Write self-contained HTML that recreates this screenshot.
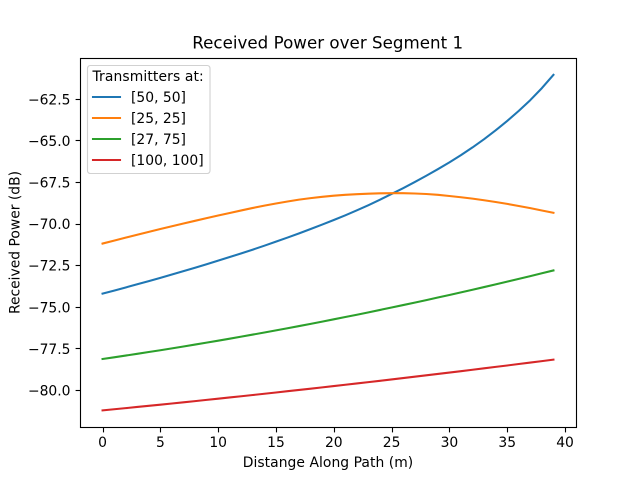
<!DOCTYPE html>
<html>
<head>
<meta charset="utf-8">
<title>Received Power over Segment 1</title>
<style>
html,body{margin:0;padding:0;background:#fff;}
svg{display:block;font-family:"DejaVu Sans","Liberation Sans",sans-serif;fill:#000;}
</style>
</head>
<body>
<svg id="chart" width="640" height="480" viewBox="0 0 640 480" xmlns="http://www.w3.org/2000/svg">
<rect x="0" y="0" width="640" height="480" fill="#fff"/>
<text x="327.7" y="48.5" font-size="16.67" letter-spacing="0.03" text-anchor="middle">Received Power over Segment 1</text>
<g id="ticks"></g>
<g id="series"></g>
<rect x="80.5" y="58.5" width="496" height="369" fill="none" stroke="#000" stroke-width="1.11"/>
<text x="328" y="467" font-size="13.89" letter-spacing="0.05" text-anchor="middle">Distange Along Path (m)</text>
<text transform="translate(19.5,242.5) rotate(-90)" font-size="13.89" text-anchor="middle">Received Power (dB)</text>
<g id="legend">
<rect x="87.5" y="65.5" width="122.5" height="108" rx="2.8" ry="2.8" fill="#fff" fill-opacity="0.8" stroke="#ccc" stroke-opacity="0.9" stroke-width="1.11"/>
<text x="92.5" y="81" font-size="13.89" letter-spacing="0.12">Transmitters at:</text>
</g>
</svg>
<script>
const xValues = [0,1,2,3,4,5,6,7,8,9,10,11,12,13,14,15,16,17,18,19,20,21,22,23,24,25,26,27,28,29,30,31,32,33,34,35,36,37,38,39];
const seriesLabels = ["[50, 50]","[25, 25]","[27, 75]","[100, 100]"];
const seriesColors = ["#1f77b4","#ff7f0e","#2ca02c","#d62728"];
const blueValues = [-74.180,-73.996,-73.809,-73.619,-73.426,-73.230,-73.031,-72.829,-72.623,-72.413,-72.199,-71.981,-71.759,-71.532,-71.297,-71.056,-70.809,-70.556,-70.296,-70.029,-69.754,-69.471,-69.173,-68.860,-68.532,-68.189,-67.839,-67.474,-67.094,-66.699,-66.289,-65.854,-65.389,-64.894,-64.364,-63.799,-63.194,-62.544,-61.824,-61.024];
const orangeValues = [-71.170,-70.990,-70.813,-70.638,-70.466,-70.296,-70.129,-69.964,-69.802,-69.642,-69.485,-69.330,-69.178,-69.028,-68.890,-68.760,-68.640,-68.530,-68.440,-68.360,-68.290,-68.240,-68.200,-68.170,-68.150,-68.140,-68.140,-68.160,-68.190,-68.240,-68.310,-68.385,-68.470,-68.565,-68.670,-68.785,-68.910,-69.040,-69.180,-69.320];
const greenValues = [-78.110,-78.008,-77.904,-77.799,-77.691,-77.582,-77.471,-77.358,-77.243,-77.127,-77.008,-76.888,-76.766,-76.642,-76.517,-76.389,-76.260,-76.129,-75.996,-75.862,-75.725,-75.587,-75.447,-75.305,-75.161,-75.015,-74.868,-74.719,-74.568,-74.415,-74.260,-74.104,-73.945,-73.785,-73.623,-73.460,-73.294,-73.127,-72.957,-72.786];
const redValues = [-81.200,-81.132,-81.064,-80.994,-80.925,-80.855,-80.784,-80.713,-80.641,-80.569,-80.496,-80.422,-80.348,-80.274,-80.199,-80.123,-80.047,-79.971,-79.893,-79.816,-79.737,-79.659,-79.579,-79.499,-79.419,-79.338,-79.257,-79.175,-79.092,-79.009,-78.925,-78.841,-78.756,-78.671,-78.585,-78.499,-78.412,-78.324,-78.236,-78.148];
const xTickValues = [0,5,10,15,20,25,30,35,40];
const xTickLabels = ["0","5","10","15","20","25","30","35","40"];
const yTickValues = [-80,-77.5,-75,-72.5,-70,-67.5,-65,-62.5];
const yTickLabels = ["\u221280.0","\u221277.5","\u221275.0","\u221272.5","\u221270.0","\u221267.5","\u221265.0","\u221262.5"];

const NS = "http://www.w3.org/2000/svg";
const plot = {left:80, right:576, top:57.6, bottom:427.2};
const xDomain = [-1.95, 40.95];
const yDomain = [-82.21, -59.99];
function xScale(v){ return plot.left + (v - xDomain[0]) / (xDomain[1] - xDomain[0]) * (plot.right - plot.left); }
function yScale(v){ return plot.bottom - (v - yDomain[0]) / (yDomain[1] - yDomain[0]) * (plot.bottom - plot.top); }
function snapX(p){ return Math.floor(p + 0.5) + 0.5; }
function snapY(p){ return Math.floor(p) + 0.5; }

const ticksGroup = document.getElementById("ticks");
xTickValues.forEach(function(v, i){
  const px = snapX(xScale(v));
  const tick = document.createElementNS(NS, "line");
  
  
  tick.setAttribute("x1", px); tick.setAttribute("x2", px);
  tick.setAttribute("y1", 427.5); tick.setAttribute("y2", 432.4);
  tick.setAttribute("stroke", "#000"); tick.setAttribute("stroke-width", 1.11);
  ticksGroup.appendChild(tick);
  const label = document.createElementNS(NS, "text");
  
  
  label.setAttribute("x", xScale(v)); label.setAttribute("y", 447);
  label.setAttribute("font-size", 13.89); label.setAttribute("text-anchor", "middle");
  label.textContent = xTickLabels[i];
  ticksGroup.appendChild(label);
});
yTickValues.forEach(function(v, i){
  const py = snapY(yScale(v));
  const tick = document.createElementNS(NS, "line");
  
  
  tick.setAttribute("x1", 75.6); tick.setAttribute("x2", 80.5);
  tick.setAttribute("y1", py); tick.setAttribute("y2", py);
  tick.setAttribute("stroke", "#000"); tick.setAttribute("stroke-width", 1.11);
  ticksGroup.appendChild(tick);
  const label = document.createElementNS(NS, "text");
  
  
  label.setAttribute("x", 70.5); label.setAttribute("y", yScale(v) + 5);
  label.setAttribute("font-size", 13.89); label.setAttribute("text-anchor", "end");
  label.textContent = yTickLabels[i];
  ticksGroup.appendChild(label);
});

const allSeries = [blueValues, orangeValues, greenValues, redValues];
const seriesGroup = document.getElementById("series");
allSeries.forEach(function(values, s){
  const pts = values.map(function(v, i){ return xScale(xValues[i]).toFixed(2) + "," + yScale(v).toFixed(2); }).join(" ");
  const line = document.createElementNS(NS, "polyline");
  
  
  line.setAttribute("points", pts);
  line.setAttribute("fill", "none");
  line.setAttribute("stroke", seriesColors[s]);
  line.setAttribute("stroke-width", 2.08);
  line.setAttribute("stroke-linejoin", "round");
  line.setAttribute("stroke-linecap", "square");
  seriesGroup.appendChild(line);
});

const legendGroup = document.getElementById("legend");
seriesLabels.forEach(function(name, s){
  const cy = 97 + s * 21;
  const swatch = document.createElementNS(NS, "line");
  
  
  swatch.setAttribute("x1", 93); swatch.setAttribute("x2", 120);
  swatch.setAttribute("y1", cy); swatch.setAttribute("y2", cy);
  swatch.setAttribute("stroke", seriesColors[s]); swatch.setAttribute("stroke-width", 2.08);
  swatch.setAttribute("stroke-linecap", "square");
  legendGroup.appendChild(swatch);
  const label = document.createElementNS(NS, "text");
  
  
  label.setAttribute("x", 131); label.setAttribute("y", cy + 5);
  label.setAttribute("font-size", 13.89);
  label.textContent = name;
  legendGroup.appendChild(label);
});
</script>
</body>
</html>
